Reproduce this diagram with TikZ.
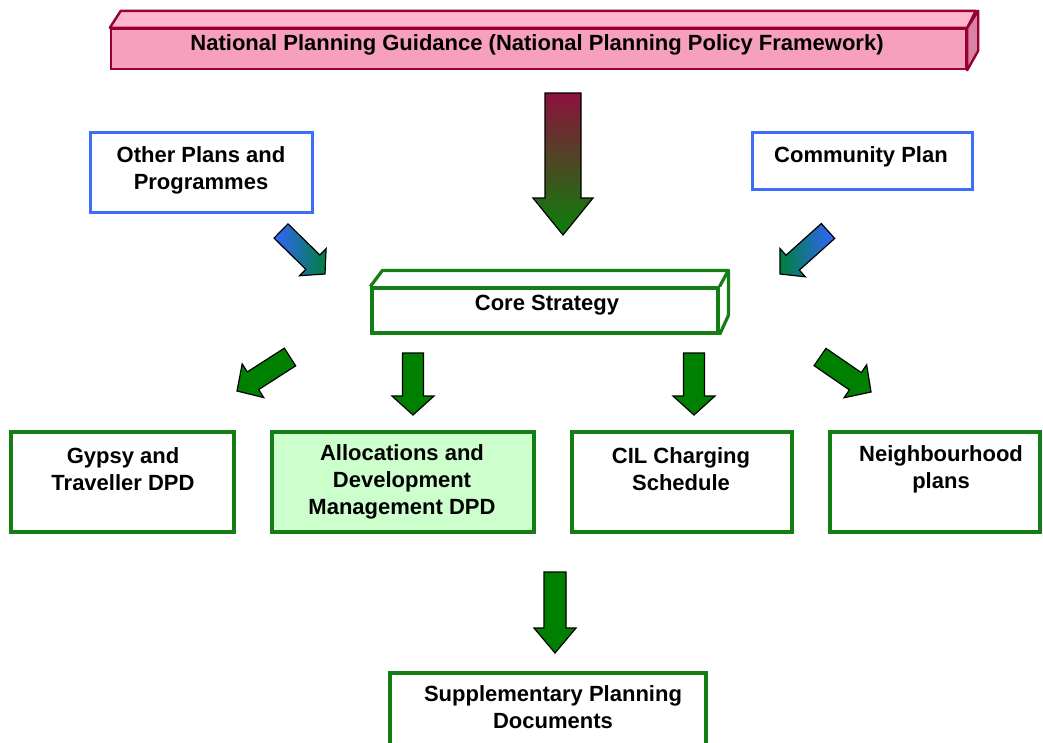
\documentclass[tikz,border=0pt]{standalone}
\usepackage{fontspec}
\setmainfont{Liberation Sans}
\usetikzlibrary{calc}
\definecolor{gborder}{RGB}{20,125,20}
\definecolor{agreen}{RGB}{0,128,0}
\definecolor{lgreen}{RGB}{204,255,204}
\definecolor{bborder}{RGB}{60,110,250}
\definecolor{ablue}{RGB}{50,100,255}
\definecolor{ateal}{RGB}{0,128,60}
\definecolor{pinkfront}{RGB}{247,160,190}
\definecolor{pinktop}{RGB}{255,182,204}
\definecolor{pinkside}{RGB}{218,130,165}
\definecolor{pinkborder}{RGB}{150,0,50}
\definecolor{crimson}{RGB}{140,18,60}
\definecolor{greenend}{RGB}{10,128,10}
\newcommand{\blockarr}[6]{%
  \coordinate (#2h) at ($(#3)!#6!(#2)$);
  \path[#1] ($(#2)!#4!90:(#3)$) -- ($(#2h)!#4!90:(#3)$) -- ($(#2h)!#5!90:(#3)$) -- (#3)
    -- ($(#2h)!#5!-90:(#3)$) -- ($(#2h)!#4!-90:(#3)$) -- ($(#2)!#4!-90:(#3)$) -- cycle;}
\tikzset{
  lbl/.style={font=\bfseries\fontsize{22}{27}\selectfont, align=center, inner sep=0pt},
  gbox/.style={draw=gborder, line width=3.2pt, fill=white, inner sep=0pt},
  bbox/.style={draw=bborder, line width=3pt, fill=white, inner sep=0pt},
  pbox/.style={draw=pinkborder, line width=2.4pt, fill=pinkfront, inner sep=0pt},
  garrow/.style={draw=black, line width=1.2pt, fill=agreen, line join=miter},
  barrowR/.style={draw=black, line width=1.2pt, left color=ablue, right color=ateal},
  barrowL/.style={draw=black, line width=1.2pt, left color=ateal, right color=ablue},
  bigarrow/.style={draw=black, line width=1.2pt, top color=crimson, bottom color=greenend},
}
\begin{document}
\begin{tikzpicture}[x=1pt,y=-1pt]
\clip (0,0) rectangle (1043,742);
\fill[white] (0,0) rectangle (1043,742);

% top 3D box
\node[pbox, minimum width=855pt, minimum height=40pt] (npg) at (538.5,49) {};
\filldraw[draw=pinkborder, line width=2.4pt, fill=pinktop, line join=round] (npg.north west) -- ++(11,-17) -- ++(855,0) -- (npg.north east) -- cycle;
\filldraw[draw=pinkborder, line width=2.4pt, fill=pinkside, line join=round] (npg.north east) -- ++(11,-17) -- ++(0,40) -- (npg.south east) -- cycle;
\node[lbl] (npgt) at (537,45) {National Planning Guidance (National Planning Policy Framework)};

% big arrow
\coordinate (bigT) at (563,93);
\coordinate (bigH) at (563,235);
\blockarr{bigarrow}{bigT}{bigH}{18pt}{30pt}{37pt}

% blue boxes
\node[bbox, minimum width=222pt, minimum height=80pt] (other) at (201,172) {};
\node[lbl] (othert) at (201,170) {Other Plans and\\Programmes};
\node[bbox, minimum width=220pt, minimum height=57pt] (comm) at (862,160.5) {};
\node[lbl] (commt) at (861,157) {Community Plan};

% blue arrows
\coordinate (blT) at (281,231);
\coordinate (blH) at (325,274);
\blockarr{barrowR}{blT}{blH}{10pt}{19pt}{17pt}
\coordinate (brT) at (828,231);
\coordinate (brH) at (780,274);
\blockarr{barrowL}{brT}{brH}{10pt}{19pt}{17pt}

% core strategy 3D box
\node[gbox, minimum width=346pt, minimum height=45pt] (core) at (545,310.5) {};
\draw[draw=gborder, line width=3.2pt, line join=round] (core.north west) -- ++(12,-16) -- ++(346,0) -- (core.north east);
\draw[draw=gborder, line width=3.2pt, line join=round] (core.north west) ++(358,-16) -- ++(0,45) -- (core.south east);
\node[lbl] (coret) at (547,305) {Core Strategy};

% green arrows
\coordinate (g1T) at (290,357);
\coordinate (g1H) at (237,391);
\blockarr{garrow}{g1T}{g1H}{10.5pt}{20pt}{19pt}
\coordinate (g2T) at (413,353);
\coordinate (g2H) at (413,415);
\blockarr{garrow}{g2T}{g2H}{10.5pt}{21pt}{19pt}
\coordinate (g3T) at (694,353);
\coordinate (g3H) at (694,415);
\blockarr{garrow}{g3T}{g3H}{10.5pt}{21pt}{19pt}
\coordinate (g4T) at (820,357);
\coordinate (g4H) at (871,392);
\blockarr{garrow}{g4T}{g4H}{10.5pt}{20pt}{19pt}

% row boxes
\node[gbox, minimum width=223pt, minimum height=100pt] (gypsy) at (122.5,482) {};
\node[lbl] (gypsyt) at (123,469) {Gypsy and\\Traveller DPD};
\node[gbox, fill=lgreen, minimum width=262pt, minimum height=100pt] (alloc) at (403,482) {};
\node[lbl] (alloct) at (402,481.5) {Allocations and\\Development\\Management DPD};
\node[gbox, minimum width=220pt, minimum height=100pt] (cil) at (682,482) {};
\node[lbl] (cilt) at (681,469) {CIL Charging\\Schedule};
\node[gbox, minimum width=210pt, minimum height=100pt] (neigh) at (935,482) {};
\node[lbl] (neight) at (941,469) {Neighbourhood\\plans};

% SPD arrow and box
\coordinate (g5T) at (555,572);
\coordinate (g5H) at (555,653);
\blockarr{garrow}{g5T}{g5H}{11pt}{21pt}{25pt}
\node[gbox, minimum width=316pt, minimum height=107pt] (spd) at (548,726.5) {};
\node[lbl] (spdt) at (553,707.5) {Supplementary Planning\\Documents};
\end{tikzpicture}
\end{document}
